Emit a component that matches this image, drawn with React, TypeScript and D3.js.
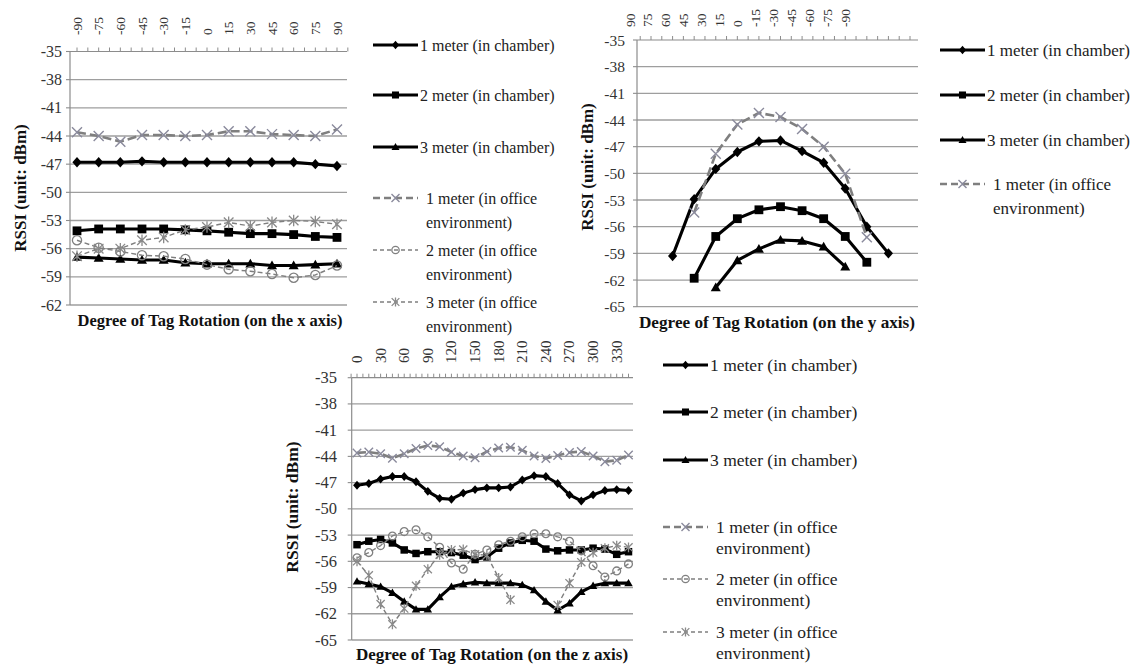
import React from 'react';
import * as d3 from 'd3';

// ---------------- DATA ----------------
const xCats = [-90, -75, -60, -45, -30, -15, 0, 15, 30, 45, 60, 75, 90];
const x1mChamber = [-46.8, -46.8, -46.8, -46.7, -46.8, -46.8, -46.8, -46.8, -46.8, -46.8, -46.8, -47.0, -47.2];
const x2mChamber = [-54.1, -53.9, -53.9, -53.9, -53.9, -54.0, -54.1, -54.25, -54.4, -54.4, -54.5, -54.7, -54.8];
const x3mChamber = [-56.9, -57.0, -57.1, -57.2, -57.2, -57.5, -57.6, -57.6, -57.6, -57.8, -57.8, -57.7, -57.6];
const x1mOffice = [-43.6, -44.0, -44.6, -43.9, -43.9, -44.0, -43.9, -43.5, -43.5, -43.8, -43.9, -44.0, -43.3];
const x2mOffice = [-55.1, -55.9, -56.3, -56.7, -56.8, -57.1, -57.7, -58.2, -58.4, -58.7, -59.1, -58.8, -57.8];
const x3mOffice = [-56.8, -56.0, -56.0, -55.1, -54.8, -54.0, -53.7, -53.2, -53.6, -53.2, -53.0, -53.1, -53.4];
const xTicks = [-35, -38, -41, -44, -47, -50, -53, -56, -59, -62];

const yCats = [90, 75, 60, 45, 30, 15, 0, -15, -30, -45, -60, -75, -90];
const y1mChamber = [null, -59.3, -52.9, -49.5, -47.6, -46.4, -46.3, -47.5, -48.8, -51.7, -56.0, -59.0, null];
const y2mChamber = [null, null, -61.8, -57.1, -55.1, -54.1, -53.75, -54.2, -55.1, -57.1, -60.0, null, null];
const y3mChamber = [null, null, null, -62.85, -59.8, -58.5, -57.5, -57.6, -58.25, -60.5, null, null, null];
const y1mOffice = [null, null, -54.4, -47.8, -44.5, -43.2, -43.65, -45.0, -47.0, -50.05, -57.2, null, null];
const yTicks = [-35, -38, -41, -44, -47, -50, -53, -56, -59, -62, -65];

const zCats = [0, 15, 30, 45, 60, 75, 90, 105, 120, 135, 150, 165, 180, 195, 210, 225, 240, 255, 270, 285, 300, 315, 330, 345];
const zLabels = [0, 30, 60, 90, 120, 150, 180, 210, 240, 270, 300, 330];
const z1mChamber = [-47.3, -47.1, -46.6, -46.3, -46.3, -46.9, -48.0, -48.8, -48.9, -48.2, -47.8, -47.6, -47.6, -47.5, -46.7, -46.2, -46.3, -47.1, -48.4, -49.1, -48.4, -47.9, -47.8, -47.9];
const z2mChamber = [-54.1, -53.7, -53.5, -53.9, -54.7, -55.1, -54.9, -54.9, -55.0, -55.3, -55.8, -55.5, -54.5, -53.9, -53.6, -53.7, -54.6, -54.8, -54.7, -54.7, -54.5, -54.6, -55.2, -54.9];
const z3mChamber = [-58.3, -58.6, -58.9, -59.6, -60.6, -61.5, -61.5, -60.1, -58.9, -58.6, -58.4, -58.5, -58.5, -58.5, -58.7, -59.3, -60.6, -61.6, -60.8, -59.5, -58.8, -58.5, -58.5, -58.5];
const z1mOffice = [-43.6, -43.5, -43.7, -44.2, -43.7, -43.1, -42.75, -42.9, -43.5, -43.95, -44.15, -43.45, -43.05, -42.95, -43.3, -43.95, -44.25, -43.9, -43.55, -43.45, -43.95, -44.6, -44.45, -43.85];
const z2mOffice = [-55.6, -55.0, -54.2, -53.1, -52.6, -52.4, -53.2, -54.4, -56.2, -56.9, -55.2, -54.7, -54.1, -53.7, -53.2, -52.85, -52.85, -53.2, -53.7, -54.8, -56.5, -57.8, -57.1, -56.3];
const z3mOffice = [-56.0, -57.6, -60.9, -63.2, -61.4, -58.8, -56.9, -55.25, -54.7, -54.65, -55.2, -55.3, -57.9, -60.4, null, null, null, -61.0, -58.5, -56.1, -55.0, -54.5, -54.2, -54.4];

const xTitle = 'Degree of Tag Rotation (on the x axis)';
const yTitle = 'Degree of Tag Rotation (on the y axis)';
const zTitle = 'Degree of Tag Rotation (on the z axis)';
const axisTitle = 'RSSI (unit: dBm)';

type Kind = 'c1' | 'c2' | 'c3' | 'o1' | 'o2' | 'o3';
const legendLabels: Record<Kind, string[]> = {
  c1: ['1 meter (in chamber)'],
  c2: ['2 meter (in chamber)'],
  c3: ['3 meter (in chamber)'],
  o1: ['1 meter (in office', 'environment)'],
  o2: ['2 meter (in office', 'environment)'],
  o3: ['3 meter (in office', 'environment)'],
};

// ---------------- STYLE ----------------
const FONT = 'Liberation Serif';
const STYLE: Record<Kind, { stroke: string; width: number; dash?: string }> = {
  c1: { stroke: '#000', width: 3.1 },
  c2: { stroke: '#000', width: 3.1 },
  c3: { stroke: '#000', width: 3.1 },
  o1: { stroke: '#7f7f7f', width: 2.6, dash: '9,4' },
  o2: { stroke: '#7f7f7f', width: 1.4, dash: '5,3' },
  o3: { stroke: '#7f7f7f', width: 1.4, dash: '5,3' },
};

function Marker({ k, x, y, s }: { k: Kind; x: number; y: number; s: number }) {
  const t = `translate(${x},${y})`;
  if (k === 'c1') {
    const w = 4.6 * s, h = 5.2 * s;
    return <path transform={t} d={`M0,${-h}L${w},0L0,${h}L${-w},0Z`} fill="#000" />;
  }
  if (k === 'c2') {
    const r = 4.4 * s;
    return <rect transform={t} x={-r} y={-r} width={2 * r} height={2 * r} fill="#000" />;
  }
  if (k === 'c3') {
    const r = 5 * s;
    return <path transform={t} d={`M0,${-r}L${r},${r * 0.75}L${-r},${r * 0.75}Z`} fill="#000" />;
  }
  if (k === 'o1') {
    const r = 5 * s;
    return <path transform={t} d={`M${-r},${-r}L${r},${r}M${-r},${r}L${r},${-r}`} stroke="#8a8a9c" strokeWidth={1.4} fill="none" />;
  }
  if (k === 'o2') {
    return <circle transform={t} r={4.6 * s} fill="none" stroke="#808080" strokeWidth={1.3} />;
  }
  const r = 4.8 * s;
  return (
    <path transform={t} d={`M${-r},${-r}L${r},${r}M${-r},${r}L${r},${-r}M0,${-r * 1.2}L0,${r * 1.2}`} stroke="#8a8a8a" strokeWidth={1.3} fill="none" />
  );
}

type Series = { k: Kind; values: (number | null)[] };

type PanelCfg = {
  cats: number[];
  labels: number[];
  series: Series[];
  ticks: number[];
  box: [number, number];
  xr: [number, number];
  lr?: [number, number];
  yd: [number, number];
  yr: [number, number];
  labelBottom: number;
  labelSize: number;
  tickEnd: number;
  tickSize: number;
  title: string;
  titleX: number;
  titleY: number;
  titleSize: number;
  yTitleX: number;
  yTitleY: number;
  yTitleSize: number;
  mk: number;
  legend: { x0: number; x1: number; ys: number[]; size: number; lh: number };
};

const txt = (size: number, bold = false): React.CSSProperties => ({
  fontFamily: FONT,
  fontSize: size + 'px',
  fontWeight: bold ? 'bold' : 'normal',
});

function Panel({ c }: { c: PanelCfg }) {
  const xs = d3.scalePoint<number>().domain(c.cats).range(c.xr);
  const ls = c.lr ? d3.scalePoint<number>().domain(c.labels).range(c.lr) : xs;
  const ys = d3.scaleLinear().domain(c.yd).range(c.yr);
  const step = xs.step();
  const top = ys(c.yd[1]);
  const bottom = ys(c.yd[0]);
  const line = d3
    .line<number | null>()
    .defined((d) => d != null)
    .x((_, i) => xs(c.cats[i]) as number)
    .y((d) => ys(d as number));
  const tickXs: number[] = [];
  c.cats.forEach((cat) => {
    const p = xs(cat) as number;
    tickXs.push(p - step / 2, p);
  });
  tickXs.push((xs(c.cats[c.cats.length - 1]) as number) + step / 2);
  return (
    <g>
      {c.ticks.slice(1).map((t) => (
        <line key={t} x1={c.box[0]} x2={c.box[1]} y1={ys(t)} y2={ys(t)} stroke="#9e9e9e" strokeWidth={1.3} />
      ))}
      {c.ticks.map((t) => (
        <line key={'lt' + t} x1={c.box[0] - 4} x2={c.box[0]} y1={ys(t)} y2={ys(t)} stroke="#8c8c8c" strokeWidth={1.1} />
      ))}
      <line x1={c.box[0]} x2={c.box[0]} y1={top} y2={bottom} stroke="#8c8c8c" strokeWidth={1.2} />
      <line x1={c.box[0]} x2={c.box[1]} y1={top} y2={top} stroke="#8c8c8c" strokeWidth={1.2} />
      {tickXs
        .filter((x) => x >= c.box[0] - 1 && x <= c.box[1] + 1)
        .map((x, i) => (
          <line key={'tt' + i} x1={x} x2={x} y1={top} y2={top - 4} stroke="#8c8c8c" strokeWidth={1} />
        ))}
      {c.ticks.map((t) => (
        <text key={'yl' + t} x={c.tickEnd} y={ys(t)} textAnchor="end" dominantBaseline="central" style={txt(c.tickSize)} fill="#333">
          {t}
        </text>
      ))}
      {c.labels.map((l) => (
        <text
          key={'xl' + l}
          transform={`translate(${ls(l)},${c.labelBottom}) rotate(-90)`}
          textAnchor="start"
          dominantBaseline="central"
          style={txt(c.labelSize)}
          fill="#333"
        >
          {l}
        </text>
      ))}
      {c.series.map((s) => {
        const st = STYLE[s.k];
        return (
          <g key={s.k}>
            <path d={line(s.values) || ''} fill="none" stroke={st.stroke} strokeWidth={st.width} strokeDasharray={st.dash} strokeLinejoin="round" />
            {s.values.map((v, i) =>
              v == null ? null : <Marker key={i} k={s.k} x={xs(c.cats[i]) as number} y={ys(v)} s={c.mk} />
            )}
          </g>
        );
      })}
      <text x={c.titleX} y={c.titleY} textAnchor="middle" style={txt(c.titleSize, true)} fill="#111">
        {c.title}
      </text>
      <text
        transform={`translate(${c.yTitleX},${c.yTitleY}) rotate(-90)`}
        textAnchor="middle"
        dominantBaseline="central"
        style={txt(c.yTitleSize, true)}
        fill="#111"
      >
        {axisTitle}
      </text>
      {c.series.map((s, i) => {
        const st = STYLE[s.k];
        const y = c.legend.ys[i];
        const mid = (c.legend.x0 + c.legend.x1) / 2;
        const office = s.k[0] === 'o';
        const tx = c.legend.x1 + (office ? 8 : 2);
        return (
          <g key={'lg' + s.k}>
            <line x1={c.legend.x0} x2={c.legend.x1} y1={y} y2={y} stroke={st.stroke} strokeWidth={st.width} strokeDasharray={office ? (s.k === 'o1' ? '7,4' : '4,3') : undefined} />
            <Marker k={s.k} x={mid} y={y} s={0.8} />
            {legendLabels[s.k].map((t, j) => (
              <text key={j} x={tx} y={y + j * c.legend.lh} dominantBaseline="central" style={txt(c.legend.size)} fill="#222">
                {t}
              </text>
            ))}
          </g>
        );
      })}
    </g>
  );
}

const panelX: PanelCfg = {
  cats: xCats,
  labels: xCats,
  series: [
    { k: 'c1', values: x1mChamber },
    { k: 'c2', values: x2mChamber },
    { k: 'c3', values: x3mChamber },
    { k: 'o1', values: x1mOffice },
    { k: 'o2', values: x2mOffice },
    { k: 'o3', values: x3mOffice },
  ],
  ticks: xTicks,
  box: [70, 347],
  xr: [77, 337],
  yd: [-62, -35],
  yr: [305, 51.5],
  labelBottom: 35,
  labelSize: 13.5,
  tickEnd: 62,
  tickSize: 16,
  title: xTitle,
  titleX: 210,
  titleY: 326,
  titleSize: 16.5,
  yTitleX: 20,
  yTitleY: 188,
  yTitleSize: 17,
  mk: 1,
  legend: { x0: 373, x1: 418, ys: [45, 95, 147, 198, 250, 302], size: 16, lh: 24 },
};

const panelY: PanelCfg = {
  cats: yCats,
  labels: yCats,
  series: [
    { k: 'c1', values: y1mChamber },
    { k: 'c2', values: y2mChamber },
    { k: 'c3', values: y3mChamber },
    { k: 'o1', values: y1mOffice },
  ],
  ticks: yTicks,
  box: [637, 918],
  xr: [651, 910],
  lr: [630, 845],
  yd: [-65, -35],
  yr: [306.7, 40],
  labelBottom: 27,
  labelSize: 13.5,
  tickEnd: 625,
  tickSize: 15.5,
  title: yTitle,
  titleX: 777,
  titleY: 328,
  titleSize: 17.2,
  yTitleX: 587,
  yTitleY: 167,
  yTitleSize: 17,
  mk: 1,
  legend: { x0: 940, x1: 985, ys: [50, 95, 140, 184], size: 17, lh: 24 },
};

const panelZ: PanelCfg = {
  cats: zCats,
  labels: zLabels,
  series: [
    { k: 'c1', values: z1mChamber },
    { k: 'c2', values: z2mChamber },
    { k: 'c3', values: z3mChamber },
    { k: 'o1', values: z1mOffice },
    { k: 'o2', values: z2mOffice },
    { k: 'o3', values: z3mOffice },
  ],
  ticks: yTicks,
  box: [351.7, 633],
  xr: [357, 628.5],
  yd: [-65, -35],
  yr: [640, 377.7],
  labelBottom: 363,
  labelSize: 15,
  tickEnd: 337,
  tickSize: 16.5,
  title: zTitle,
  titleX: 492,
  titleY: 660,
  titleSize: 17,
  yTitleX: 292,
  yTitleY: 507,
  yTitleSize: 17.5,
  mk: 0.85,
  legend: { x0: 663, x1: 708, ys: [365, 412, 460, 527, 579, 632], size: 17.5, lh: 21 },
};

export default function App() {
  return (
    <svg width={1137} height={665} style={{ position: 'absolute', left: 0, top: 0, background: '#fff' }}>
      <rect x={0} y={0} width={1137} height={665} fill="#fff" />
      <Panel c={panelX} />
      <Panel c={panelY} />
      <Panel c={panelZ} />
    </svg>
  );
}
